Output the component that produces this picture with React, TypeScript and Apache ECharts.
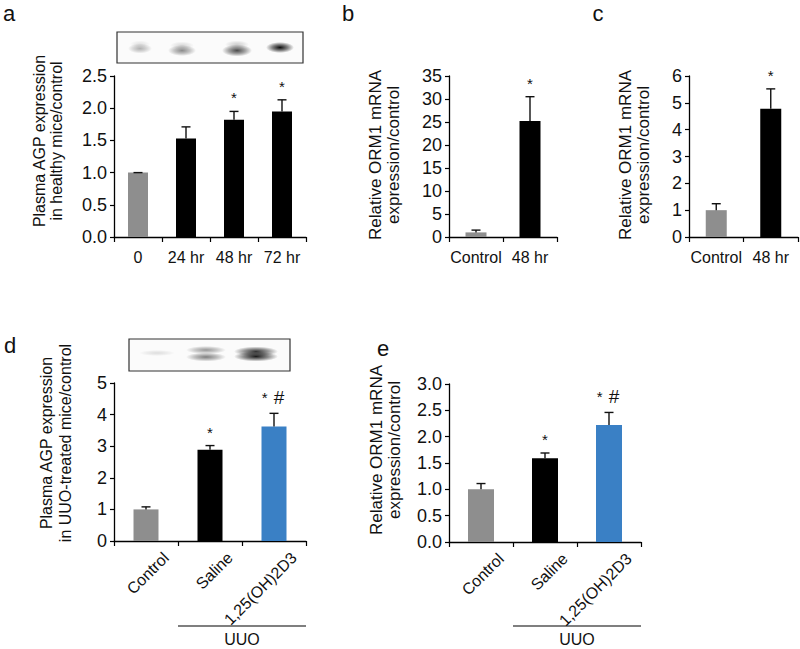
import React, { useEffect, useRef } from "react";
import * as echarts from "echarts";

const FONT = "'Liberation Sans', Arial, Helvetica, sans-serif";
const TXT = "#111111";
const GRAY = "#8e8e8e";
const BLACK = "#000000";
const BLUE = "#3a80c5";

// ---- Panel a: plasma AGP in healthy mice ----
const aCategories = ["0", "24 hr", "48 hr", "72 hr"];
const aValues = [1.0, 1.53, 1.82, 1.95];
const aErrors = [0.0, 0.18, 0.13, 0.18];
const aMarks = ["", "", "*", "*"];
const aColors = [GRAY, BLACK, BLACK, BLACK];
const aTitle = "Plasma AGP expression\nin healthy mice/control";

// ---- Panel b: ORM1 mRNA ----
const bCategories = ["Control", "48 hr"];
const bValues = [1.0, 25.2];
const bErrors = [0.5, 5.3];
const bMarks = ["", "*"];
const bColors = [GRAY, BLACK];

// ---- Panel c: ORM1 mRNA ----
const cCategories = ["Control", "48 hr"];
const cValues = [1.0, 4.78];
const cErrors = [0.24, 0.74];
const cMarks = ["", "*"];
const cColors = [GRAY, BLACK];
const bcTitle = "Relative ORM1 mRNA\nexpression/control";

// ---- Panel d: plasma AGP in UUO mice ----
const dCategories = ["Control", "Saline", "1,25(OH)2D3"];
const dValues = [1.0, 2.89, 3.62];
const dErrors = [0.08, 0.13, 0.42];
const dMarks = ["", "*", "* #"];
const dColors = [GRAY, BLACK, BLUE];
const dTitle = "Plasma AGP expression\nin UUO-treated mice/control";

// ---- Panel e: ORM1 mRNA in UUO mice ----
const eCategories = ["Control", "Saline", "1,25(OH)2D3"];
const eValues = [1.0, 1.59, 2.22];
const eErrors = [0.11, 0.1, 0.24];
const eMarks = ["", "*", "* #"];
const eColors = [GRAY, BLACK, BLUE];

const groupLabel = "UUO";
const panelLetters = ["a", "b", "c", "d", "e"];

type Panel = {
  grid: { left: number; top: number; width: number; height: number };
  cats: string[];
  vals: number[];
  errs: number[];
  marks: string[];
  colors: string[];
  max: number;
  interval: number;
  decimals: number;
  barWidth: number;
  rotated: boolean;
};

const panels: Panel[] = [
  { grid: { left: 114, top: 76, width: 192, height: 161 }, cats: aCategories, vals: aValues, errs: aErrors, marks: aMarks, colors: aColors, max: 2.5, interval: 0.5, decimals: 1, barWidth: 20, rotated: false },
  { grid: { left: 449, top: 76, width: 108, height: 161 }, cats: bCategories, vals: bValues, errs: bErrors, marks: bMarks, colors: bColors, max: 35, interval: 5, decimals: 0, barWidth: 21, rotated: false },
  { grid: { left: 689, top: 76, width: 109, height: 161 }, cats: cCategories, vals: cValues, errs: cErrors, marks: cMarks, colors: cColors, max: 6, interval: 1, decimals: 0, barWidth: 21, rotated: false },
  { grid: { left: 114, top: 383, width: 192, height: 158 }, cats: dCategories, vals: dValues, errs: dErrors, marks: dMarks, colors: dColors, max: 5, interval: 1, decimals: 0, barWidth: 25, rotated: true },
  { grid: { left: 449, top: 384, width: 192, height: 158 }, cats: eCategories, vals: eValues, errs: eErrors, marks: eMarks, colors: eColors, max: 3, interval: 0.5, decimals: 1, barWidth: 26, rotated: true },
];

function buildOption() {
  const grids: any[] = [];
  const xAxes: any[] = [];
  const yAxes: any[] = [];
  const series: any[] = [];
  panels.forEach((p, gi) => {
    grids.push({ ...p.grid, containLabel: false });
    xAxes.push({
      type: "category",
      gridIndex: gi,
      data: p.cats,
      boundaryGap: true,
      axisLine: { show: true, lineStyle: { color: "#000", width: 1.3 } },
      axisTick: { show: true, length: 5, inside: false, interval: 0, lineStyle: { color: "#000", width: 1.2 } },
      axisLabel: {
        show: !p.rotated,
        interval: 0,
        margin: 12,
        color: TXT,
        fontFamily: FONT,
        fontSize: 16,
      },
      splitLine: { show: false },
    });
    yAxes.push({
      type: "value",
      gridIndex: gi,
      min: 0,
      max: p.max,
      interval: p.interval,
      axisLine: { show: true, lineStyle: { color: "#000", width: 1.3 } },
      axisTick: { show: true, length: 4, lineStyle: { color: "#000", width: 1.2 } },
      axisLabel: {
        margin: 7,
        color: TXT,
        fontFamily: FONT,
        fontSize: 18,
        formatter: (v: number) => v.toFixed(p.decimals),
      },
      splitLine: { show: false },
    });
    series.push({
      type: "bar",
      xAxisIndex: gi,
      yAxisIndex: gi,
      barWidth: p.barWidth,
      data: p.vals.map((v, i) => ({ value: v, itemStyle: { color: p.colors[i] } })),
    });
    series.push({
      type: "custom",
      xAxisIndex: gi,
      yAxisIndex: gi,
      z: 10,
      data: p.vals.map((v, i) => [i, v, p.errs[i]]),
      renderItem: (params: any, api: any) => {
        const i = api.value(0);
        const v = api.value(1);
        const e = api.value(2);
        const base = api.coord([i, v]);
        const top = api.coord([i, v + e]);
        const cap = 9;
        const st = { stroke: "#111", lineWidth: 1.4 };
        const children: any[] = [
          { type: "line", shape: { x1: base[0], y1: base[1], x2: top[0], y2: top[1] }, style: st },
          { type: "line", shape: { x1: top[0] - cap / 2, y1: top[1], x2: top[0] + cap / 2, y2: top[1] }, style: st },
        ];
        const mark = p.marks[params.dataIndex];
        if (mark) {
          const rich = mark.replace("*", "{s|*}").replace(" ", "{g|}").replace("#", "{h|#}");
          children.push({
            type: "text",
            x: top[0] - (mark.length > 1 ? 1 : 0),
            y: top[1] - 6,
            style: {
              text: rich,
              align: "center",
              verticalAlign: "bottom",
              fill: TXT,
              fontFamily: FONT,
              fontSize: 15,
              rich: {
                s: { fontSize: 15, fontFamily: FONT, fill: TXT },
                g: { fontSize: 15, fontFamily: FONT, width: 6 },
                h: { fontSize: 19, fontFamily: FONT, fill: TXT },
              },
            },
          });
        }
        return { type: "group", children };
      },
    });
  });
  return { animation: false, backgroundColor: "#ffffff", grid: grids, xAxis: xAxes, yAxis: yAxes, series };
}

function band(cx: number, cy: number, rx: number, ry: number, a: number) {
  return {
    type: "ellipse",
    shape: { cx, cy, rx, ry },
    style: {
      fill: new echarts.graphic.RadialGradient(0.5, 0.5, 0.5, [
        { offset: 0, color: `rgba(0,0,0,${a})` },
        { offset: 0.55, color: `rgba(0,0,0,${a * 0.5})` },
        { offset: 1, color: "rgba(0,0,0,0)" },
      ]),
    },
    silent: true,
  };
}

function buildGraphics(chart: any) {
  const g: any[] = [];
  const txt = (text: string, x: number, y: number, size: number) => ({
    type: "text",
    x,
    y,
    style: { text, fill: TXT, fontFamily: FONT, fontSize: size, align: "center", verticalAlign: "middle" },
  });

  // panel letters
  const letterPos = [[9, 13], [348, 13], [598, 13], [10, 345], [383, 348]];
  panelLetters.forEach((l, i) => g.push(txt(l, letterPos[i][0], letterPos[i][1], 22)));

  // axis titles (rotated)
  const titles: [string, number, number, number, number][] = [
    [aTitle, 48, 141, 16, 17.5],
    [bcTitle, 384, 155, 17, 18],
    [bcTitle, 634, 155, 17, 18],
    [dTitle, 56, 443, 16, 19],
    [bcTitle, 385, 450, 17, 18],
  ];
  titles.forEach(([t, x, y, fs, lh]) => {
    g.push({
      type: "text",
      x,
      y,
      rotation: Math.PI / 2,
      style: { text: t, fill: TXT, fontFamily: FONT, fontSize: fs, lineHeight: lh, align: "center", verticalAlign: "middle" },
    });
  });

  // western blot a
  g.push({ type: "rect", shape: { x: 117, y: 32, width: 186, height: 31 }, style: { fill: "#fbfbfb", stroke: "#333", lineWidth: 1.2 } });
  g.push(band(140, 48.5, 12, 5, 0.3));
  g.push(band(140, 44, 10, 3.5, 0.1));
  g.push(band(182, 50.5, 14, 5.5, 0.45));
  g.push(band(182, 45.5, 12, 4, 0.14));
  g.push(band(237, 50.5, 15, 6, 0.7));
  g.push(band(237, 44.5, 12, 4, 0.18));
  g.push(band(280, 47.5, 14, 5.5, 0.95));
  // western blot d
  g.push({ type: "rect", shape: { x: 129, y: 339, width: 161, height: 32 }, style: { fill: "#fbfbfb", stroke: "#333", lineWidth: 1.2 } });
  g.push(band(157, 353, 18, 3, 0.12));
  g.push(band(206, 350, 20, 4, 0.4));
  g.push(band(206, 357, 20, 4.5, 0.5));
  g.push(band(256, 351.5, 22, 5, 0.8));
  g.push(band(256, 356.5, 22, 5, 0.9));

  // rotated category labels + UUO group lines for panels d and e
  [3, 4].forEach((gi) => {
    const p = panels[gi];
    const y0 = chart.convertToPixel({ yAxisIndex: gi }, 0);
    p.cats.forEach((c, i) => {
      const x = chart.convertToPixel({ xAxisIndex: gi }, i);
      g.push({
        type: "text",
        x: x + 20,
        y: y0 + 14,
        rotation: Math.PI / 4,
        style: { text: c, fill: TXT, fontFamily: FONT, fontSize: 16, align: "right", verticalAlign: "middle" },
      });
    });
    const x1 = chart.convertToPixel({ xAxisIndex: gi }, 1);
    const x2 = chart.convertToPixel({ xAxisIndex: gi }, 2);
    const half = (x2 - x1) / 2;
    const lx1 = x1 - half;
    const lx2 = x2 + half;
    g.push({ type: "line", shape: { x1: lx1, y1: 626, x2: lx2, y2: 626 }, style: { stroke: "#000", lineWidth: 1.2 } });
    g.push(txt(groupLabel, (lx1 + lx2) / 2, 639, 16));
  });
  return g;
}

export default function App() {
  const ref = useRef<HTMLDivElement>(null);
  useEffect(() => {
    if (!ref.current) return;
    const chart = echarts.init(ref.current, undefined, { renderer: "svg" });
    chart.setOption(buildOption());
    chart.setOption({ graphic: buildGraphics(chart) });
    return () => chart.dispose();
  }, []);
  return (
    <div
      ref={ref}
      style={{ position: "absolute", left: 0, top: 0, width: 800, height: 649, background: "#fff" }}
    />
  );
}
